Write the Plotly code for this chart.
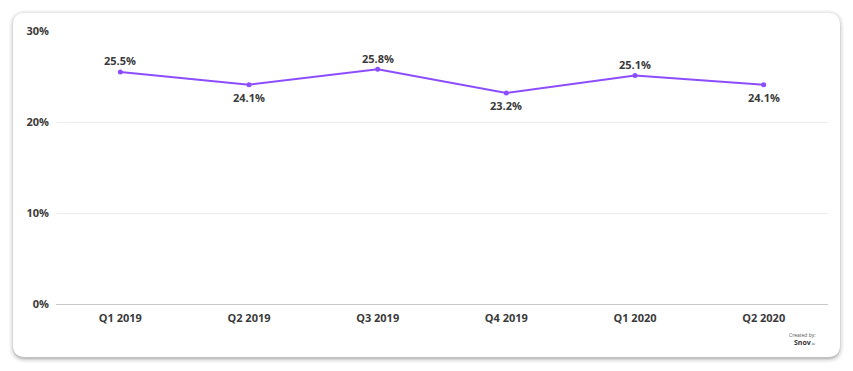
import plotly.graph_objects as go

categories = ["Q1 2019", "Q2 2019", "Q3 2019", "Q4 2019", "Q1 2020", "Q2 2020"]
values = [25.5, 24.1, 25.8, 23.2, 25.1, 24.1]
label_above = [True, False, True, False, True, False]
y_ticks = [0, 10, 20, 30]
y_tick_text = ["0%", "10%", "20%", "30%"]

OFF = 8  # page body margin
W, H = 853 - OFF, 371 - OFF
ML, MT = 56 - OFF, 31 - OFF
MR = W - (828 - OFF)
MB = H - (304 - OFF)
PW, PH = W - ML - MR, H - MT - MB

def px(x):
    return (x - OFF - ML) / PW

def py(y):
    return 1 - (y - OFF - MT) / PH

def rrect(x0, y0, x1, y1, r):
    return (f"M {px(x0+r)},{py(y0)} L {px(x1-r)},{py(y0)} "
            f"Q {px(x1)},{py(y0)} {px(x1)},{py(y0+r)} L {px(x1)},{py(y1-r)} "
            f"Q {px(x1)},{py(y1)} {px(x1-r)},{py(y1)} L {px(x0+r)},{py(y1)} "
            f"Q {px(x0)},{py(y1)} {px(x0)},{py(y1-r)} L {px(x0)},{py(y0+r)} "
            f"Q {px(x0)},{py(y0)} {px(x0+r)},{py(y0)} Z")

shapes = []
for d, op in [(5, 0.03), (3.5, 0.05), (2, 0.08), (1, 0.1)]:
    shapes.append(dict(type="path", xref="paper", yref="paper",
                       path=rrect(13 - d + 1, 13 - d + 2, 840 + d - 1, 357 + d + 1, 12 + d),
                       fillcolor=f"rgba(0,0,0,{op})", line=dict(width=0), layer="below"))
shapes.append(dict(type="path", xref="paper", yref="paper",
                   path=rrect(13, 13, 840, 357, 12),
                   fillcolor="white", line=dict(width=0), layer="below"))

fig = go.Figure()
fig.add_trace(go.Scatter(
    x=categories, y=values, mode="lines+markers",
    line=dict(color="#8c4dff", width=2),
    marker=dict(size=5, color="#8c4dff"),
    cliponaxis=False, hoverinfo="skip"))

label_font = dict(family="Open Sans", size=11, color="#3a3a3a", weight="bold")
annotations = []
for c, v, up in zip(categories, values, label_above):
    annotations.append(dict(x=c, y=v, xref="x", yref="y", text=f"{v:.1f}%",
                            showarrow=False, xanchor="center", yanchor="middle",
                            yshift=11 if up else -13, font=label_font))
annotations += [
    dict(xref="paper", yref="paper", x=px(818), y=py(335), xanchor="right", yanchor="middle",
         text="Created by:", showarrow=False,
         font=dict(family="Open Sans", size=5, color="#555555")),
    dict(xref="paper", yref="paper", x=px(818), y=py(342), xanchor="right", yanchor="middle",
         text="<b>Snov</b><span style='font-size:4px'>.io</span>", showarrow=False,
         font=dict(family="Open Sans", size=7, color="#333333")),
]

tick_font = dict(family="Open Sans", size=11, color="#3a3a3a", weight="bold")
fig.update_layout(
    width=W, height=H,
    margin=dict(l=ML, r=MR, t=MT, b=MB),
    paper_bgcolor="white", plot_bgcolor="rgba(0,0,0,0)",
    showlegend=False,
    shapes=shapes,
    font=dict(family="Open Sans", color="#333333"),
    xaxis=dict(type="category", range=[-0.5, 5.5], showgrid=False, zeroline=False,
               showline=False, ticks="", fixedrange=True, ticklabelstandoff=6,
               tickfont=tick_font),
    yaxis=dict(range=[0, 30], tickmode="array", tickvals=y_ticks, ticktext=y_tick_text,
               showgrid=True, gridcolor="#ebebeb", gridwidth=1, zeroline=True,
               zerolinecolor="#c8c8c8", zerolinewidth=1, showline=False, ticks="",
               fixedrange=True, ticklabelstandoff=6, tickfont=tick_font),
    annotations=annotations,
)

fig.write_html("out.html")
